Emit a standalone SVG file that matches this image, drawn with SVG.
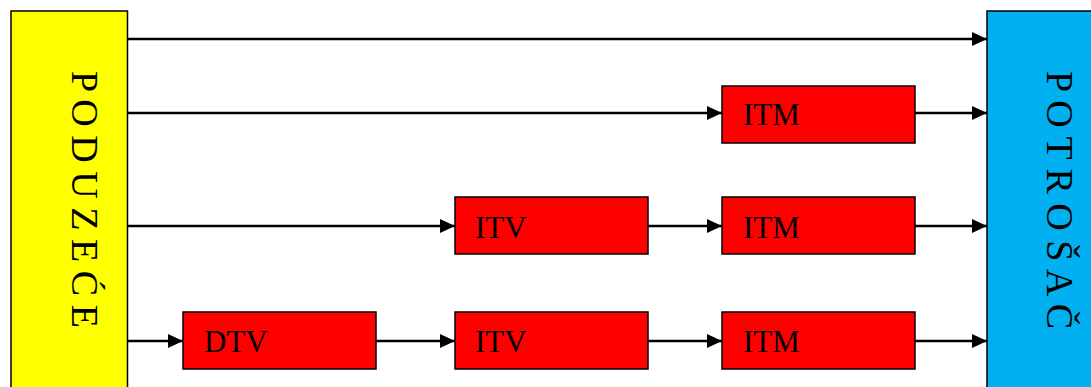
<svg xmlns="http://www.w3.org/2000/svg" width="1091" height="387" viewBox="0 0 1091 387">
<style>
.box{stroke:#000;stroke-width:1.5}
.lbl{font-family:"Liberation Serif","Times New Roman",serif;font-size:31px;fill:#000}
.vt{font-family:"Liberation Serif","Times New Roman",serif;font-size:38px;fill:#000}
.c{stroke:#000;stroke-width:2.5;fill:none;marker-end:url(#ah)}
</style>
<defs>
<marker id="ah" markerUnits="userSpaceOnUse" markerWidth="16" markerHeight="16" refX="15" refY="7" orient="auto">
<path d="M0,0 L15,7 L0,14 Z" fill="#000"/>
</marker>
</defs>
<rect width="1091" height="387" fill="#fff"/>
<g id="connectors">
<line class="c" x1="128" y1="39" x2="987" y2="39"/>
<line class="c" x1="128" y1="113" x2="722" y2="113"/>
<line class="c" x1="915" y1="113" x2="987" y2="113"/>
<line class="c" x1="128" y1="226" x2="455" y2="226"/>
<line class="c" x1="648" y1="226" x2="722" y2="226"/>
<line class="c" x1="915" y1="226" x2="987" y2="226"/>
<line class="c" x1="128" y1="341" x2="183" y2="341"/>
<line class="c" x1="376" y1="341" x2="455" y2="341"/>
<line class="c" x1="648" y1="341" x2="722" y2="341"/>
<line class="c" x1="915" y1="341" x2="987" y2="341"/>
</g>
<g id="poduzece">
<rect class="box" x="11" y="11" width="116.5" height="390" fill="#ffff00"/>
<text class="vt" transform="translate(72,71) rotate(90)" textLength="257" lengthAdjust="spacing">P O D U Z E Ć E</text>
</g>
<g id="potrosac">
<rect class="box" x="987" y="11" width="120" height="390" fill="#00b0f0"/>
<text class="vt" transform="translate(1047,71) rotate(90)" textLength="258" lengthAdjust="spacing">P O T R O Š A Č</text>
</g>
<g id="itm1">
<rect class="box" x="722" y="86" width="193" height="57" fill="#ff0000"/>
<text class="lbl" x="743" y="125">ITM</text>
</g>
<g id="itv2">
<rect class="box" x="455" y="197" width="193" height="57" fill="#ff0000"/>
<text class="lbl" x="475" y="238">ITV</text>
</g>
<g id="itm2">
<rect class="box" x="722" y="197" width="193" height="57" fill="#ff0000"/>
<text class="lbl" x="743" y="238">ITM</text>
</g>
<g id="dtv3">
<rect class="box" x="183" y="312" width="193" height="57" fill="#ff0000"/>
<text class="lbl" x="204" y="352">DTV</text>
</g>
<g id="itv3">
<rect class="box" x="455" y="312" width="193" height="57" fill="#ff0000"/>
<text class="lbl" x="475" y="352">ITV</text>
</g>
<g id="itm3">
<rect class="box" x="722" y="312" width="193" height="57" fill="#ff0000"/>
<text class="lbl" x="743" y="352">ITM</text>
</g>
</svg>
